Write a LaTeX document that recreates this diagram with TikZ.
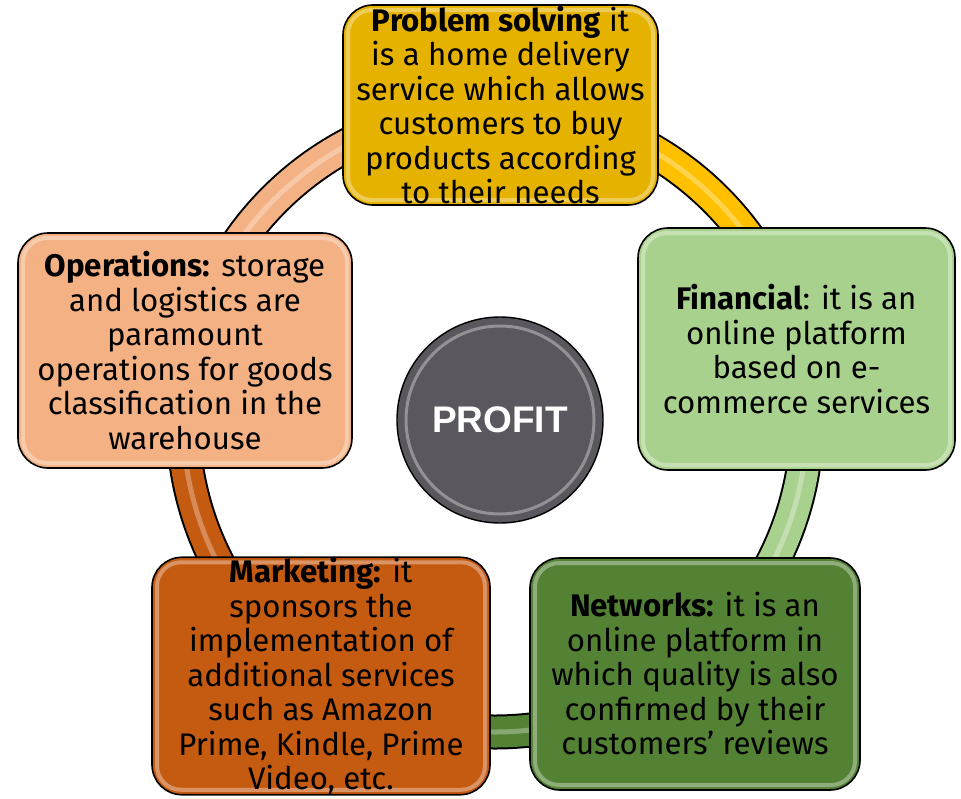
\documentclass[tikz,border=0pt]{standalone}
\usepackage{fontspec}
\usepackage{tikz}
\setmainfont{Fira Sans}
\newfontfamily\hubfont{Liberation Sans}
\usetikzlibrary{positioning}
\definecolor{probgold}{HTML}{E6B200}
\definecolor{ringgold}{HTML}{FFC000}
\definecolor{finlight}{HTML}{A9D18E}
\definecolor{netdark}{HTML}{548235}
\definecolor{mktbrown}{HTML}{C55A11}
\definecolor{opssalmon}{HTML}{F4B183}
\definecolor{hubgray}{HTML}{5A575E}

\begin{document}
\begin{tikzpicture}[
    x=1pt, y=1pt,
    box/.style={rectangle, rounded corners=30pt, draw=black, line width=1.6pt,
                align=center, inner sep=0pt,
                font=\fontsize{31.2}{34.5}\selectfont,
                path picture={\draw[white, opacity=.35, line width=4pt, rounded corners=24pt]
                  ([shift={(5pt,-5pt)}]path picture bounding box.north west) rectangle
                  ([shift={(-5pt,5pt)}]path picture bounding box.south east);}},
    hub/.style={circle, draw=black, line width=1.4pt, fill=hubgray, minimum size=206pt,
                text=white, font=\hubfont\bfseries\fontsize{37}{42}\selectfont}
  ]
    \useasboundingbox (0,0) rectangle (961,-798);
    \coordinate (ringc) at (495,-420);

    % ring segments, each in the colour of the box it leaves
    \foreach \a/\b/\c in {13/90/ringgold, -52/13/finlight, -124/-52/netdark,
                          -193/-124/mktbrown, 90/167/opssalmon} {
      \draw[black, line width=35pt] (ringc) ++(\a:312pt) arc[start angle=\a, end angle=\b, radius=312pt];
      \draw[\c, line width=31pt] (ringc) ++(\a:312pt) arc[start angle=\a, end angle=\b, radius=312pt];
      \draw[\c!40!white, opacity=.5, line width=5pt] (ringc) ++(\a:312pt) arc[start angle=\a, end angle=\b, radius=312pt];
    }

    \node[box, fill=probgold, minimum width=315pt, minimum height=200pt] (prob) at (500.5,-105)
      {\textbf{Problem solving} it\\is a home delivery\\service which allows\\customers to buy\\products according\\to their needs};
    \node[box, fill=finlight, minimum width=317pt, minimum height=242pt] (fin) at (796.5,-349)
      {\textbf{Financial}: it is an\\online platform\\based on e-\\commerce services};
    \node[box, fill=netdark, minimum width=330pt, minimum height=232pt] (net) at (695,-674)
      {\textbf{Networks:} it is an\\online platform in\\which quality is also\\confirmed by their\\customers’ reviews};
    \node[box, fill=mktbrown, minimum width=338pt, minimum height=232pt] (mkt) at (321,-676)
      {\textbf{Marketing:} it\\sponsors the\\implementation of\\additional services\\such as Amazon\\Prime, Kindle, Prime\\Video, etc.};
    \node[box, fill=opssalmon, minimum width=334pt, minimum height=235pt] (ops) at (185,-350.5)
      {\textbf{Operations:} storage\\and logistics are\\paramount\\operations for goods\\classification in the\\warehouse};

    \node[hub] (profit) at (500,-420) {PROFIT};
    \draw[white, opacity=.35, line width=3pt] (profit.center) circle[radius=94pt];
\end{tikzpicture}
\end{document}
